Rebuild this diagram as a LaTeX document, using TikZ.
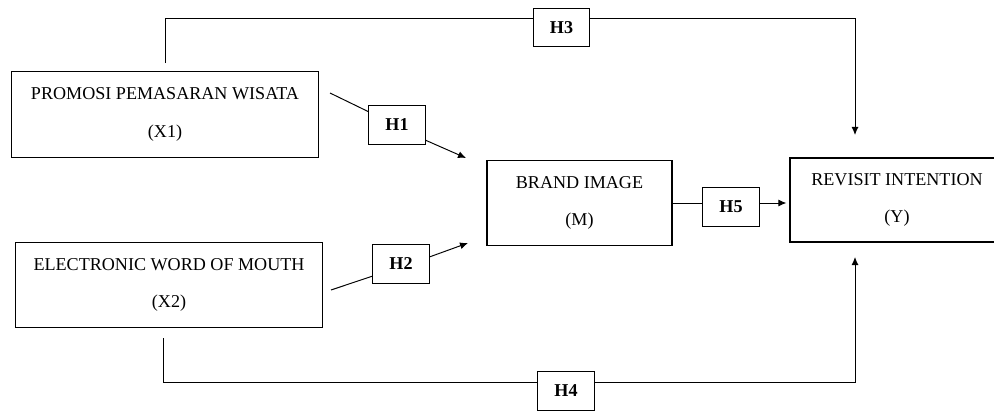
\documentclass[tikz,border=0pt]{standalone}
\usepackage{fontspec}
\setmainfont{Liberation Serif}
\usetikzlibrary{positioning, arrows.meta}

\begin{document}
\begin{tikzpicture}[
  var/.style={draw, line width=0.7pt, minimum width=6.14cm, minimum height=1.71cm, align=center, font=\fontsize{10.3}{12.4}\selectfont},
  hyp/.style={draw, line width=0.7pt, minimum width=1.13cm, minimum height=0.77cm, inner sep=0pt, font=\fontsize{10.3}{12.4}\selectfont\bfseries},
  link/.style={line width=0.55pt},
  arrow/.style={-{Latex[length=1.6mm, width=1.4mm]}, line width=0.55pt}
]
  \useasboundingbox (0,0) rectangle (19.88,8.22);
  \clip (0,0) rectangle (19.88,8.22);

  % Variables
  \node[var] (x1) at (3.30, 5.93) {PROMOSI PEMASARAN WISATA\\[9pt](X1)};
  \node[var] (x2) at (3.38, 2.52) {ELECTRONIC WORD OF MOUTH\\[9pt](X2)};
  \node[var, minimum width=3.70cm] (m) at (11.59, 4.16) {BRAND IMAGE\\[9pt](M)};
  \node[var, minimum width=4.28cm, minimum height=1.68cm] (y) at (17.94, 4.22) {REVISIT INTENTION\\[9pt](Y)};

  % Hypotheses
  \node[hyp] (h1) at (7.94, 5.72) {H1};
  \node[hyp] (h2) at (8.02, 2.94) {H2};
  \node[hyp] (h3) at (11.23, 7.67) {H3};
  \node[hyp] (h4) at (11.32, 0.40) {H4};
  \node[hyp] (h5) at (14.62, 4.08) {H5};

  % Free ends of the connectors
  \coordinate (h1in) at (6.60, 6.36);
  \coordinate (h1out) at (9.32, 5.06);
  \coordinate (h2in) at (6.62, 2.42);
  \coordinate (h2out) at (9.36, 3.36);
  \coordinate (h3out) at (17.10, 5.52);
  \coordinate (h4out) at (17.10, 3.08);

  % X1 -> M, X2 -> M
  \draw[link] (h1in) -- (h1.155);
  \draw[arrow] (h1.-28) -- (h1out);
  \draw[link] (h2in) -- (h2.203);
  \draw[arrow] (h2.14) -- (h2out);

  % X1 -> Y (top), X2 -> Y (bottom)
  \draw[link, shorten <=0.16cm] (x1.north) |- (h3.163);
  \draw[arrow] (h3.17) -| (h3out);
  \draw[link, shorten <=0.2cm] ([xshift=-0.12cm]x2.south) |- (h4.164);
  \draw[arrow] (h4.16) -| (h4out);

  % M -> Y
  \draw[link] (m.east) -- (m.east -| h5.west);
  \draw[arrow, shorten >=0.06cm] (m.east -| h5.east) -- (m.east -| y.west);
\end{tikzpicture}
\end{document}
